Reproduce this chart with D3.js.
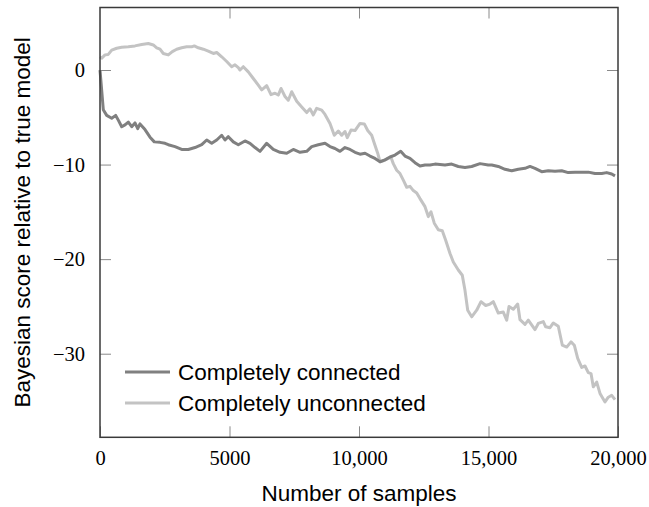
<!DOCTYPE html>
<html>
<head>
<meta charset="utf-8">
<title>Bayesian score vs number of samples</title>
<script src="https://cdn.jsdelivr.net/npm/d3@7"></script>
<style>
  body { margin: 0; background: #fff; }
  .tick text { font-family: "Liberation Serif", "Times New Roman", serif; font-size: 20.5px; fill: #000; }
  .lbl { font-family: "Liberation Sans", Arial, sans-serif; font-size: 22.5px; fill: #000; }
</style>
</head>
<body>
<svg width="649" height="507"></svg>
<script>

// samples / score pairs
var connectedSamples = [0,127,259,452,606,707,838,965,1093,1224,1351,1456,1544,1737,1931,2097,2317,2510,2637,2896,
  3154,3409,3668,3927,4120,4313,4506,4699,4826,4954,5147,5340,5598,5792,5985,6178,6436,6691,6950,7209,
  7463,7722,7981,8174,8429,8687,8880,9073,9266,9459,9653,9846,10039,10232,10425,10618,10811,11004,11197,11390,
  11610,11776,11969,12162,12355,12548,12741,12934,13127,13320,13579,13834,14092,14351,14672,14990,15124,15378,15637,15896,
  16151,16409,16602,16795,17054,17309,17568,17826,18081,18340,18598,18853,19112,19371,19564,19757,19884];
var connectedScore = [0,-4.2,-4.8,-5.1,-4.8,-5.3,-6.0,-5.8,-5.5,-6.0,-5.6,-6.2,-5.7,-6.3,-7.1,-7.6,-7.65,-7.75,-7.9,-8.1,
  -8.4,-8.4,-8.2,-7.9,-7.4,-7.75,-7.4,-6.9,-7.4,-7.05,-7.6,-7.9,-7.5,-7.75,-8.2,-8.6,-7.75,-8.4,-8.7,-8.8,
  -8.4,-8.7,-8.6,-8.1,-7.9,-7.75,-8.1,-8.3,-8.6,-8.2,-8.4,-8.7,-8.9,-8.8,-9.1,-9.35,-9.7,-9.5,-9.2,-9.0,
  -8.6,-9.1,-9.35,-9.8,-10.15,-10.05,-10.05,-9.95,-10.0,-10.05,-9.95,-10.2,-10.3,-10.2,-9.9,-10.05,-10.05,-10.2,-10.5,-10.65,
  -10.5,-10.4,-10.2,-10.4,-10.75,-10.65,-10.7,-10.65,-10.85,-10.8,-10.8,-10.8,-10.95,-10.95,-10.85,-11.0,-11.2];

var unconnectedSamples = [0,66,193,320,452,645,838,1093,1351,1610,1865,2058,2189,2317,2444,2637,2792,2961,3154,3347,
  3540,3641,3795,3988,4181,4375,4506,4699,4892,5085,5212,5340,5405,5533,5726,5919,6112,6243,6436,6602,
  6757,6884,6988,7143,7270,7401,7595,7788,7981,8108,8236,8367,8560,8687,8880,9046,9201,9332,9459,9548,
  9691,9846,10039,10205,10336,10490,10591,10722,10811,10938,11131,11236,11324,11456,11583,11711,11842,11969,12097,12228,
  12355,12548,12676,12780,12907,13062,13216,13347,13514,13641,13834,13988,14092,14197,14351,14544,14710,14892,15058,15185,
  15378,15571,15703,15792,15958,16127,16216,16409,16537,16795,16923,17116,17208,17375,17502,17695,17850,18019,18185,18313,
  18444,18598,18726,18853,18958,19046,19178,19305,19498,19626,19757,19884];
var unconnectedScore = [1.4,1.25,1.6,1.65,2.1,2.3,2.4,2.45,2.55,2.7,2.8,2.65,2.35,2.2,1.75,1.6,1.95,2.2,2.35,2.45,
  2.45,2.55,2.35,2.2,2.0,1.75,1.85,1.4,0.9,0.35,0.55,0.25,0.0,0.35,-0.2,-0.9,-1.6,-2.1,-1.65,-2.6,
  -2.45,-2.65,-1.95,-2.8,-3.2,-2.3,-3.3,-3.9,-4.5,-4.1,-4.75,-4.05,-4.25,-4.7,-5.65,-6.9,-6.45,-6.9,-6.5,-7.15,
  -6.35,-6.4,-5.65,-5.7,-6.4,-6.9,-7.75,-8.8,-9.7,-9.6,-9.35,-9.25,-9.9,-10.6,-10.95,-11.65,-12.4,-12.3,-12.75,-13.0,
  -13.6,-14.45,-15.5,-15.0,-16.2,-16.9,-17.0,-18.0,-19.4,-20.3,-21.15,-21.7,-23.3,-25.4,-26.1,-25.4,-24.5,-24.9,-24.75,-24.5,
  -25.7,-25.6,-26.45,-25.0,-25.3,-24.75,-26.4,-26.9,-26.45,-27.45,-26.8,-26.6,-27.15,-27.25,-26.75,-27.1,-29.1,-29.3,-28.75,-29.1,
  -30.5,-31.45,-31.3,-32.0,-32.1,-33.5,-33.0,-34.2,-35.1,-34.6,-34.4,-34.85];

var xTicks = [0, 5000, 10000, 15000, 20000];
var xTickLabels = ["0", "5000", "10,000", "15,000", "20,000"];
var yTicks = [0, -10, -20, -30];
var yTickLabels = ["0", "\u221210", "\u221220", "\u221230"];
var seriesNames = ["Completely connected", "Completely unconnected"];
var seriesColors = ["#808080", "#c3c3c3"];

var svg = d3.select("svg");
var plotLeft = 100, plotRight = 618, plotTop = 7.5, plotBottom = 437.3;

var x = d3.scaleLinear().domain([0, 20000]).range([plotLeft, plotRight]);
var y = d3.scaleLinear().domain([-38.84, 6.61]).range([plotBottom, plotTop]);

var series = [
  connectedSamples.map(function(s, i) { return [s, connectedScore[i]]; }),
  unconnectedSamples.map(function(s, i) { return [s, unconnectedScore[i]]; })
];

var line = d3.line()
  .x(function(d) { return x(d[0]); })
  .y(function(d) { return y(d[1]); });

// lines first, light one underneath
[1, 0].forEach(function(k) {
  svg.append("path")
    .datum(series[k])
    .attr("fill", "none")
    .attr("stroke", seriesColors[k])
    .attr("stroke-width", 3)
    .attr("stroke-linejoin", "round")
    .attr("d", line);
});

// axes, ticks pointing inward on all four sides
function styleAxis(g) {
  g.select(".domain").remove();
  g.selectAll(".tick line").attr("stroke", "#8a8a8a").attr("stroke-width", 1);
}

svg.append("g")
  .attr("transform", "translate(0," + plotBottom + ")")
  .call(d3.axisBottom(x).tickValues(xTicks).tickSize(-11).tickPadding(13)
    .tickFormat(function(d, i) { return xTickLabels[i]; }))
  .call(styleAxis);

svg.append("g")
  .attr("transform", "translate(0," + plotTop + ")")
  .call(d3.axisTop(x).tickValues(xTicks.slice(1, -1)).tickSize(-11).tickFormat(""))
  .call(styleAxis);

svg.append("g")
  .attr("transform", "translate(" + plotLeft + ",0)")
  .call(d3.axisLeft(y).tickValues(yTicks).tickSize(-11).tickPadding(15)
    .tickFormat(function(d, i) { return yTickLabels[i]; }))
  .call(styleAxis);

svg.append("g")
  .attr("transform", "translate(" + plotRight + ",0)")
  .call(d3.axisRight(y).tickValues(yTicks).tickSize(-11).tickFormat(""))
  .call(styleAxis);

svg.append("rect")
  .attr("x", plotLeft).attr("y", plotTop)
  .attr("width", plotRight - plotLeft).attr("height", plotBottom - plotTop)
  .attr("fill", "none")
  .attr("stroke", "#3a3a3a")
  .attr("stroke-width", 1.5);

// axis titles
svg.append("text")
  .attr("class", "lbl")
  .attr("x", (plotLeft + plotRight) / 2)
  .attr("y", 501)
  .attr("text-anchor", "middle")
  .text("Number of samples");

svg.append("text")
  .attr("class", "lbl")
  .attr("transform", "translate(30," + (plotTop + plotBottom) / 2 + ") rotate(-90)")
  .attr("text-anchor", "middle")
  .text("Bayesian score relative to true model");

// legend (no box)
var legend = svg.append("g");
seriesNames.forEach(function(name, i) {
  var ly = 372 + i * 31;
  legend.append("line")
    .attr("x1", 125).attr("x2", 170)
    .attr("y1", ly).attr("y2", ly)
    .attr("stroke", seriesColors[i])
    .attr("stroke-width", 3);
  legend.append("text")
    .attr("class", "lbl")
    .attr("x", 178)
    .attr("y", ly)
    .attr("dy", "0.35em")
    .text(name);
});

</script>
</body>
</html>
